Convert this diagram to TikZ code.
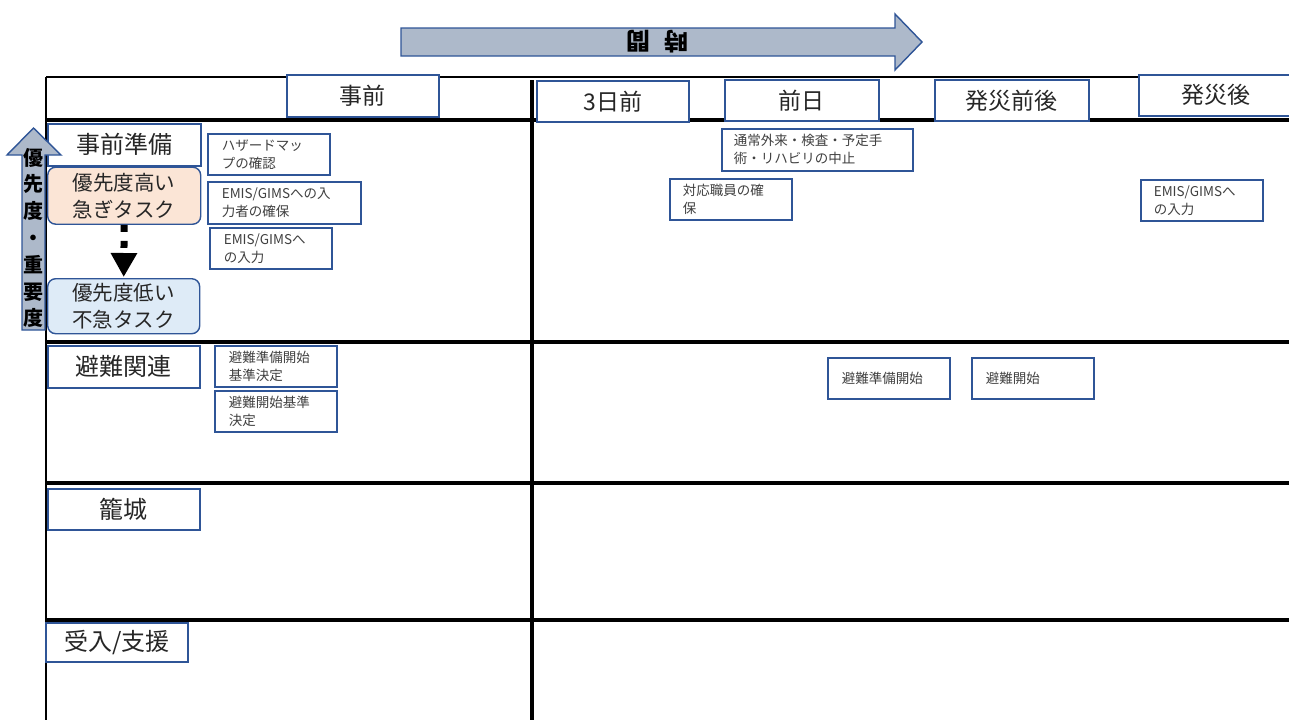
\documentclass[tikz,border=0pt]{standalone}
\usepackage{fontspec}
\setmainfont{Noto Sans CJK JP}
\usetikzlibrary{arrows.meta}
\definecolor{bblue}{HTML}{2F5597}
\definecolor{afill}{HTML}{ADB9CA}
\definecolor{ofill}{HTML}{FBE5D6}
\definecolor{lfill}{HTML}{DEEBF7}
\definecolor{txt}{HTML}{262626}
\definecolor{stxt}{HTML}{404040}
\tikzset{
  grid/.style={line width=4pt, black},
  thin/.style={line width=1.6pt, black},
  hdr/.style={draw=bblue, line width=1.6pt, fill=white, text=txt, inner sep=0pt, anchor=north west,
    font=\fontsize{23}{26}\selectfont},
  rowlbl/.style={hdr, font=\fontsize{24}{26}\selectfont},
  sbox/.style={draw=bblue, line width=1.6pt, fill=white, text=stxt, align=left, anchor=north west,
    inner xsep=14pt, inner ysep=0pt, font=\fontsize{13.5}{18}\selectfont},
  pri/.style={draw=bblue, line width=1.4pt, rounded corners=8pt, text=txt, align=center, anchor=north west,
    inner sep=0pt, font=\fontsize{20.5}{27}\selectfont},
  blockarrow/.style={draw=bblue, line width=1.4pt, fill=afill, line join=miter},
  prarrow/.style={line width=7pt, dash pattern=on 7pt off 9pt, -{Triangle[width=25pt,length=24pt]}}
}
\begin{document}
\begin{tikzpicture}[x=1pt,y=-1pt]
\useasboundingbox (0,0) rectangle (1289,720);
% table lines
\draw[thin] (46,77) -- (1289,77);
\draw[thin] (46,77) -- (46,720);
\draw[grid] (46,119.5) -- (1289,119.5);
\draw[grid] (46,341.5) -- (1289,341.5);
\draw[grid] (46,483) -- (1289,483);
\draw[grid] (46,620) -- (1289,620);
\draw[grid] (532,80) -- (532,720);
% time arrow
\draw[blockarrow] (401,28) -- (895,28) -- (895,14) -- (922,42) -- (895,70) -- (895,56) -- (401,56) -- cycle;
\node[font=\bfseries\fontsize{24}{26}\selectfont, rotate=180, inner sep=0pt] (time) at (657,42) {時\hspace{14pt}間};
% header boxes
\node[hdr, minimum width=152pt, minimum height=42pt] (h0) at (286,74) {事前};
\node[hdr, minimum width=152pt, minimum height=41pt] (h1) at (536,80) {3日前};
\node[hdr, minimum width=154pt, minimum height=41pt] (h2) at (724,79) {前日};
\node[hdr, minimum width=154pt, minimum height=41pt] (h3) at (934,79) {発災前後};
\node[hdr, minimum width=155pt, minimum height=41pt] (h4) at (1138,74) {発災後};
% row labels
\node[rowlbl, minimum width=153pt, minimum height=42pt] (r1) at (47,123) {事前準備};
\node[rowlbl, minimum width=152pt, minimum height=42pt] (r2) at (47,345) {避難関連};
\node[rowlbl, minimum width=152pt, minimum height=41pt] (r3) at (47,488) {籠城};
\node[rowlbl, minimum width=142pt, minimum height=39pt] (r4) at (45,622) {受入/支援};
% priority arrow (vertical)
\draw[blockarrow] (22,330) -- (22,155) -- (7,155) -- (33.5,128) -- (61,155) -- (45,155) -- (45,330) -- cycle;
\node[font=\bfseries\fontsize{20}{26.8}\selectfont, align=center, inner sep=0pt, text=black] (prio) at (33.5,238) {優\\先\\度\\・\\重\\要\\度};
% priority boxes
\node[pri, fill=ofill, minimum width=153pt, minimum height=57pt] (p1) at (47,166.5) {優先度高い\\急ぎタスク};
\node[pri, fill=lfill, minimum width=152pt, minimum height=55pt] (p2) at (47,278) {優先度低い\\不急タスク};
\draw[prarrow, shorten >=1pt] (p1.south) -- (p2.north);
% small task boxes
\node[sbox, text width=94pt, minimum height=41pt] (t1) at (207,133) {ハザードマッ\\プの確認};
\node[sbox, text width=125pt, minimum height=42pt] (t2) at (207,181) {EMIS/GIMSへの入\\力者の確保};
\node[sbox, text width=94pt, minimum height=41pt] (t3) at (209,227) {EMIS/GIMSへ\\の入力};
\node[sbox, text width=167pt, minimum height=42pt, inner xsep=12pt] (t4) at (721,128) {通常外来・検査・予定手\\術・リハビリの中止};
\node[sbox, text width=96pt, minimum height=41pt, inner xsep=13pt] (t5) at (669,178) {対応職員の確\\保};
\node[sbox, text width=96pt, minimum height=41pt, inner xsep=13pt] (t6) at (1140,179) {EMIS/GIMSへ\\の入力};
\node[sbox, text width=94pt, minimum height=41pt] (t7) at (214,345) {避難準備開始\\基準決定};
\node[sbox, text width=94pt, minimum height=41pt] (t8) at (214,390) {避難開始基準\\決定};
\node[sbox, text width=94pt, minimum height=41pt] (t9) at (827,357) {避難準備開始};
\node[sbox, text width=94pt, minimum height=41pt] (t10) at (971,357) {避難開始};
\end{tikzpicture}
\end{document}
